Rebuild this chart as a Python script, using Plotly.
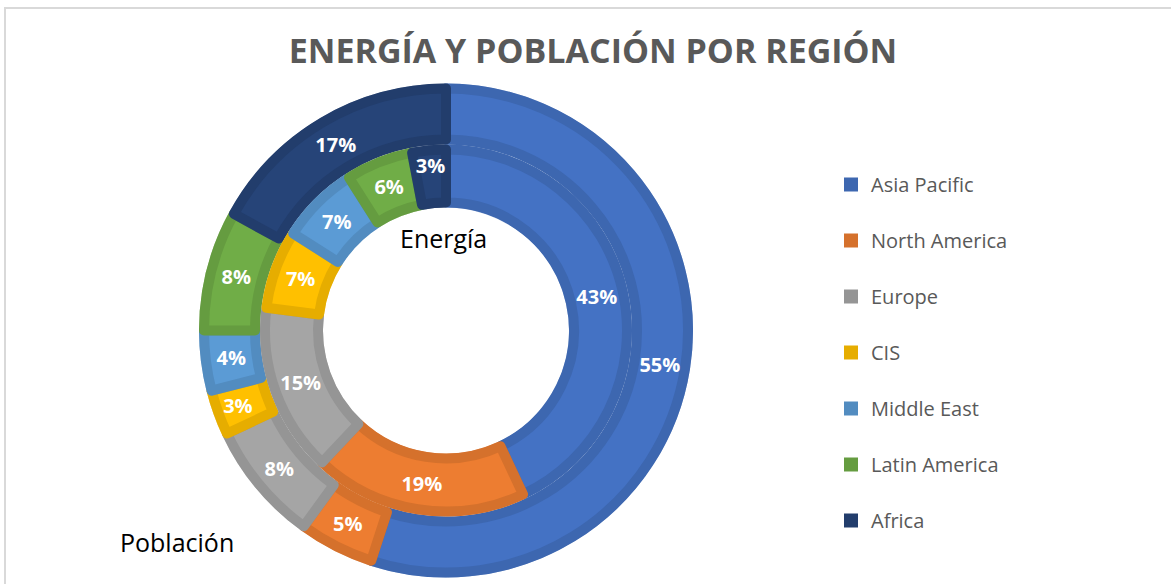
import plotly.graph_objects as go

# ---------------- data ----------------
regions = ["Asia Pacific", "North America", "Europe", "CIS", "Middle East", "Latin America", "Africa"]
poblacion = [55, 5, 8, 3, 4, 8, 17]   # outer ring (%)
energia = [43, 19, 15, 7, 7, 6, 3]    # inner ring (%)

light_colors = ["#4472C4", "#ED7D31", "#A5A5A5", "#FFC000", "#5B9BD5", "#70AD47", "#264478"]
dark_colors = ["#3D67B0", "#D5712C", "#959595", "#E6AD00", "#528CC0", "#659C40", "#223D6C"]

title_text = "ENERGÍA Y POBLACIÓN POR REGIÓN"

# ---------------- layout geometry ----------------
W, H = 1171, 584
cx, cy = 446, H - 330.5          # pie centre (px, from bottom)
R_out, R_mid, R_hole = 247, 186, 123
band_w, inset = 10, 5             # bevel stroke width / radial inset


def dom(R):
    return dict(x=[(cx - R) / W, (cx + R) / W], y=[(cy - R) / H, (cy + R) / H])


fig = go.Figure()

common = dict(sort=False, direction="clockwise", rotation=0, hoverinfo="skip", showlegend=False)

# base rings (darker edge colour)
fig.add_trace(go.Pie(labels=regions, values=poblacion, domain=dom(R_out), hole=R_mid / R_out,
                     marker=dict(colors=dark_colors, line=dict(color="rgba(255,255,255,0.55)", width=1)),
                     textinfo="none", **common))
fig.add_trace(go.Pie(labels=regions, values=energia, domain=dom(R_mid), hole=R_hole / R_mid,
                     marker=dict(colors=dark_colors, line=dict(color="rgba(255,255,255,0.55)", width=1)),
                     textinfo="none", **common))

label_font = dict(family="Open Sans", size=20, color="white", weight="bold")

# lighter inset rings (bevel face) carrying the labels
Ro = R_out - inset
fig.add_trace(go.Pie(labels=regions, values=poblacion, domain=dom(Ro), hole=(R_mid + inset) / Ro,
                     marker=dict(colors=light_colors, line=dict(color=dark_colors, width=band_w)),
                     texttemplate="%{value}%", textposition="inside", insidetextorientation="horizontal",
                     textfont=label_font, **common))
Ri = R_mid - inset
fig.add_trace(go.Pie(labels=regions, values=energia, domain=dom(Ri), hole=(R_hole + inset) / Ri,
                     marker=dict(colors=light_colors, line=dict(color=dark_colors, width=band_w)),
                     texttemplate="%{value}%", textposition="inside", insidetextorientation="horizontal",
                     textfont=label_font, **common))

# legend entries (one group each so they can be spaced like the original)
for name, col in zip(regions, dark_colors):
    fig.add_trace(go.Scatter(x=[None], y=[None], mode="markers", name=name, legendgroup=name,
                             marker=dict(symbol="square", size=14, color=col),
                             hoverinfo="skip", showlegend=True))

fig.update_layout(
    width=W, height=H, autosize=False,
    margin=dict(l=0, r=0, t=0, b=0),
    paper_bgcolor="white", plot_bgcolor="white",
    xaxis=dict(visible=False), yaxis=dict(visible=False),
    title=dict(text=title_text, x=593 / W, xanchor="center", y=1 - 51 / H, yanchor="middle",
               font=dict(family="Open Sans", size=34, color="#595959", weight="bold")),
    legend=dict(x=831 / W, xanchor="left", y=1 - 165 / H, yanchor="top",
                font=dict(family="Open Sans", size=20, color="#595959"),
                tracegroupgap=27, itemsizing="trace", bgcolor="rgba(0,0,0,0)"),
    uniformtext=dict(minsize=20, mode="show"),
    annotations=[
        dict(text="Energía", x=443 / W, y=1 - 238 / H, xref="paper", yref="paper",
             showarrow=False, xanchor="center", yanchor="middle",
             font=dict(family="Open Sans", size=25, color="black")),
        dict(text="Población", x=177 / W, y=1 - 542 / H, xref="paper", yref="paper",
             showarrow=False, xanchor="center", yanchor="middle",
             font=dict(family="Open Sans", size=25, color="black")),
    ],
    shapes=[dict(type="rect", xref="paper", yref="paper", x0=5 / W, x1=1.02, y0=-0.02, y1=1 - 8 / H,
                 line=dict(color="#D9D9D9", width=2), fillcolor="rgba(0,0,0,0)", layer="below")],
)

fig.write_html("out.html", config={"displayModeBar": False},
               post_script="document.body.style.margin='0';document.body.style.overflow='hidden';")
